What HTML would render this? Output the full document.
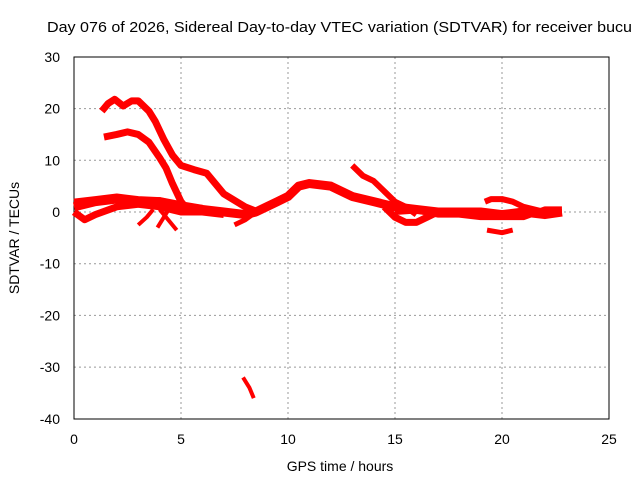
<!DOCTYPE html>
<html><head><meta charset="utf-8"><style>
body{margin:0;background:#fff}
svg{display:block;font-family:"Liberation Sans",sans-serif;font-size:14px}
</style></head><body>
<svg width="640" height="480">
<text x="47" y="32" textLength="585" lengthAdjust="spacingAndGlyphs" style="font-size:15px">Day 076 of 2026, Sidereal Day-to-day VTEC variation (SDTVAR) for receiver bucu</text>
<g id="grid"></g>
<rect x="74" y="57" width="535" height="362" fill="none" stroke="#000"/>
<g id="series"></g>
<g id="ticks"></g>
<text x="340" y="471" text-anchor="middle">GPS time / hours</text>
<text transform="translate(19,238) rotate(-90)" text-anchor="middle">SDTVAR / TECUs</text>
</svg>
<script>
const xTicks=[0,5,10,15,20,25];
const yTicks=[30,20,10,0,-10,-20,-30,-40];
const s1=[[1.3,19.5],[1.6,21],[1.9,21.8],[2.3,20.5],[2.7,21.5],[3.0,21.5],[3.5,19.5],[3.8,17.5],[4.2,14],[4.6,11],[5,9],[5.6,8.2],[6.2,7.5],[7,3.5],[8,1],[8.6,0]];
const s2=[[1.4,14.5],[2,15],[2.5,15.5],[3,15],[3.5,13.5],[4,10.5],[4.3,8.5],[4.6,5.5],[5,2],[5.3,0.5]];
const s3=[[0,1],[1,2],[2,2.5],[3,2],[4,2],[5,1],[6,0.5],[7,0],[8,-0.5],[8.5,0],[9,1],[9.5,2],[10,3],[10.5,5],[11,5.5],[12,5],[12.5,4],[13,3],[14,2],[15,1],[16,0.5],[17,0],[18,0],[19,0],[20,-0.5],[21,0],[22,-0.5],[22.8,0]];
const s4=[[0,0],[0.5,-1.5],[1,-0.5],[2,1],[3,1.5],[4,1],[5,0],[6,0],[7,-0.5]];
const s5=[[7.5,-2.5],[8,-1.5],[8.5,0],[9,1]];
const s6=[[13,9],[13.5,7],[14,6],[14.5,4],[15,2],[15.5,1],[16,-0.5]];
const s7=[[14.5,1],[15,-1],[15.5,-2],[16,-2],[16.5,-1],[17,0]];
const s8=[[19.2,2],[19.5,2.5],[20,2.5],[20.5,2],[21,1],[22,0],[22.8,0]];
const s9=[[19.3,-3.5],[20,-4],[20.5,-3.5]];
const s10=[[3.9,-3],[4.2,-1],[4.5,1]];
const s11=[[4.8,-3.5],[4.4,-1.5],[4.0,0.5]];
const s12=[[3.7,0.5],[3.4,-1],[3.0,-2.5]];
const s13=[[7.9,-32],[8.2,-34],[8.4,-36]];
const s14=[[0,2],[1,2.5],[2,3],[3,2.5],[4,2.3],[5,1.5],[6,0.8]];
const s15=[[15,0],[16,0.3],[17,-0.5],[18,-0.5],[19,-1],[20,-1],[21,-1],[22,0.5],[22.8,0.5]];
const seriesList=[[s1,7],[s2,7],[s3,9],[s4,7],[s5,5],[s6,6],[s7,7],[s8,6],[s9,5],[s10,4],[s11,4],[s12,4],[s13,4],[s14,6],[s15,6]];
const NS='http://www.w3.org/2000/svg';
const X=h=>74+h*535/25, Y=v=>212-v*362/70;
const grid=document.getElementById('grid'),ticks=document.getElementById('ticks'),ser=document.getElementById('series');
function mk(t,a,p){const e=document.createElementNS(NS,t);for(const k in a)e.setAttribute(k,a[k]);p.appendChild(e);return e;}
xTicks.forEach(t=>{
 if(t>0&&t<25){const g=mk('line',{x1:X(t),x2:X(t),y1:57,y2:419,stroke:'#999','stroke-dasharray':'2,3'},grid);
 
 }
 const l=mk('text',{x:X(t),y:444,'text-anchor':'middle'},ticks);l.textContent=t;
 
 
});
yTicks.forEach(t=>{
 if(t<30&&t>-40){const g=mk('line',{x1:74,x2:609,y1:Y(t),y2:Y(t),stroke:'#999','stroke-dasharray':'2,3'},grid);
 
 }
 const l=mk('text',{x:60,y:Y(t)+5,'text-anchor':'end'},ticks);l.textContent=t;
 
 
});
seriesList.forEach(([d,w])=>{
 const p=mk('polyline',{points:d.map(q=>X(q[0])+','+Y(q[1])).join(' '),fill:'none',stroke:'#f00','stroke-width':w,'stroke-linejoin':'round'},ser);
 
 
});
</script>
</body></html>
